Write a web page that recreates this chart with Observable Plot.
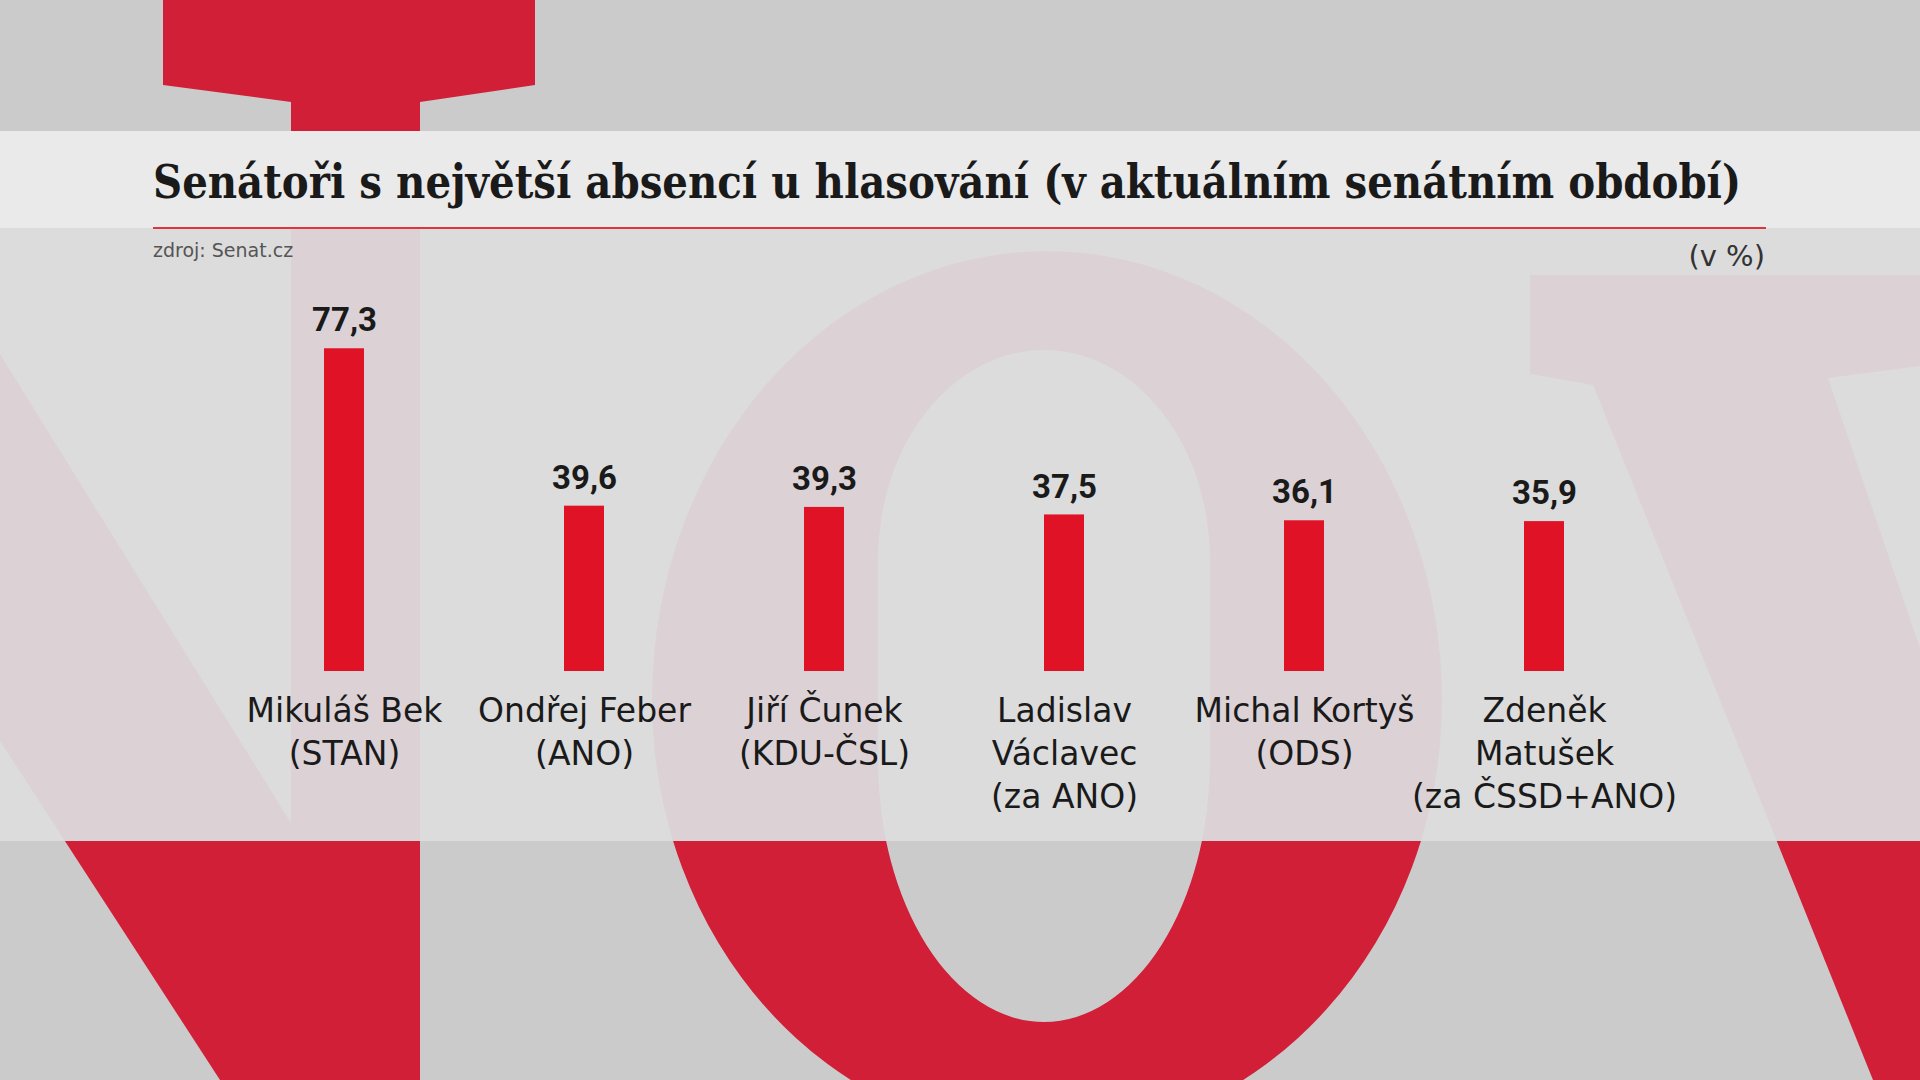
<!DOCTYPE html>
<html>
<head>
<meta charset="utf-8">
<script src="https://cdn.jsdelivr.net/npm/d3@7"></script>
<script src="https://cdn.jsdelivr.net/npm/@observablehq/plot@0.6"></script>
<style>
  html, body { margin: 0; padding: 0; }
  body { width: 1920px; height: 1080px; overflow: hidden; position: relative; background: #cbcbcb; }
  #bg, #chart { position: absolute; left: 0; top: 0; }
  #chart svg { overflow: visible; }
</style>
</head>
<body>
<svg id="bg" width="1920" height="1080" xmlns="http://www.w3.org/2000/svg">
  <defs>
    <g id="shapes">
      <polygon points="163,0 535,0 535,85 420,102 420,1080 291,1080 291,102 163,85"/>
      <polygon points="0,354 291,823 291,1080 220,1080 0,741"/>
      <path fill-rule="evenodd" d="M652,700 A395,449 0 0 1 1442,700 A395,438 0 0 1 652,700 Z M878,560 A166,210 0 0 1 1210,560 L1210,760 A166,262 0 0 1 878,760 Z"/>
      <polygon points="1530,275 1920,275 1920,366 1828,378 2067,1080 1873,1080 1593,385 1530,374"/>
    </g>
    <clipPath id="outside">
      <rect x="0" y="0" width="1920" height="131"/>
      <rect x="0" y="841" width="1920" height="239"/>
    </clipPath>
    <clipPath id="panel">
      <rect x="0" y="228" width="1920" height="613"/>
    </clipPath>
  </defs>
  <rect x="0" y="0" width="1920" height="1080" fill="#cbcbcb"/>
  <use href="#shapes" fill="#d11f38" clip-path="url(#outside)"/>
  <rect x="0" y="131" width="1920" height="97" fill="#eaeaea"/>
  <rect x="0" y="228" width="1920" height="613" fill="#dcdcdc"/>
  <use href="#shapes" fill="#dcd2d6" clip-path="url(#panel)"/>
  <rect x="153" y="227" width="1613" height="2" fill="#e0343f"/>
  <text x="153" y="198" font-family="'DejaVu Serif Condensed','DejaVu Serif',serif" font-weight="bold" font-size="46" fill="#1a1a1a" textLength="1588" lengthAdjust="spacingAndGlyphs">Senátoři s největší absencí u hlasování (v aktuálním senátním období)</text>
  <text x="153" y="257" font-family="'DejaVu Sans',sans-serif" font-size="19" fill="#555">zdroj: Senat.cz</text>
  <text x="1765" y="266" text-anchor="end" font-family="'DejaVu Sans',sans-serif" font-size="29" fill="#333">(v %)</text>
</svg>
<div id="chart"></div>
<script>
const senators = ["Mikuláš Bek", "Ondřej Feber", "Jiří Čunek", "Ladislav Václavec", "Michal Kortyš", "Zdeněk Matušek"];
const parties = ["(STAN)", "(ANO)", "(KDU-ČSL)", "(za ANO)", "(ODS)", "(za ČSSD+ANO)"];
const nameLines = ["Mikuláš Bek", "Ondřej Feber", "Jiří Čunek", "Ladislav\nVáclavec", "Michal Kortyš", "Zdeněk\nMatušek"];
const absence = [77.3, 39.6, 39.3, 37.5, 36.1, 35.9];

const data = senators.map((s, i) => ({
  name: s,
  label: nameLines[i] + "\n" + parties[i],
  value: absence[i]
}));
const fmt = v => v.toFixed(1).replace(".", ",");

const chart = Plot.plot({
  width: 1920,
  height: 1080,
  marginLeft: 124,
  marginRight: 156,
  marginTop: 337,
  marginBottom: 409,
  x: { domain: senators, padding: 0.8333, axis: null },
  y: { domain: [0, 80], axis: null },
  style: { background: "transparent", overflow: "visible" },
  marks: [
    Plot.barY(data, { x: "name", y: "value", fill: "#e01226" }),
    Plot.text(data, {
      x: "name", y: "value", text: d => fmt(d.value),
      dy: -28, lineAnchor: "middle",
      fontSize: 33, fontWeight: 700, fontFamily: "Roboto, 'Liberation Sans', sans-serif",
      fill: "#1a1a1a"
    }),
    Plot.text(data, {
      x: "name", y: 0, text: "label",
      dy: 20, lineAnchor: "top", lineHeight: 1.3,
      fontSize: 33, fontFamily: "'DejaVu Sans', sans-serif",
      fill: "#1a1a1a"
    })
  ]
});
document.getElementById("chart").appendChild(chart);
</script>
</body>
</html>
